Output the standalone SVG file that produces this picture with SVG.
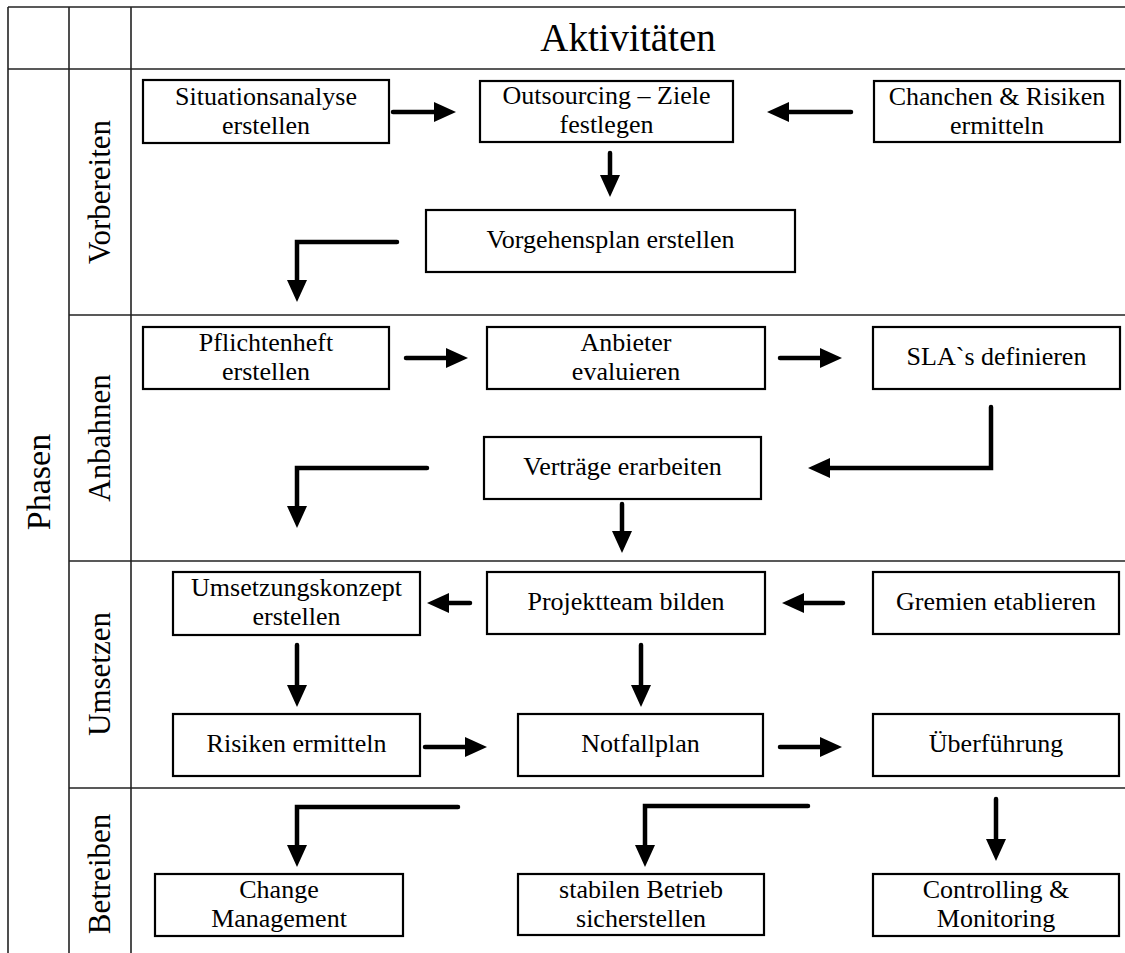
<svg xmlns="http://www.w3.org/2000/svg" width="1125" height="953" viewBox="0 0 1125 953">
<style>
.grid{stroke:#222;stroke-width:1.6;fill:none}
.box{fill:#fff;stroke:#000;stroke-width:2.2}
.c{stroke:#000;stroke-width:4.5;fill:none;stroke-linecap:round;stroke-linejoin:miter;marker-end:url(#ah)}
</style>
<defs>
<marker id="ah" markerUnits="userSpaceOnUse" markerWidth="24" markerHeight="22" refX="1" refY="10" orient="auto">
<path d="M0,0 L22,10 L0,20 Z" fill="#000"/>
</marker>
</defs>
<rect width="1125" height="953" fill="#fff"/>
<g id="table">
<line class="grid" x1="8" y1="7" x2="1125" y2="7"/>
<line class="grid" x1="8" y1="69" x2="1125" y2="69"/>
<line class="grid" x1="8" y1="7" x2="8" y2="953"/>
<line class="grid" x1="69" y1="7" x2="69" y2="953"/>
<line class="grid" x1="131" y1="7" x2="131" y2="953"/>
<line class="grid" x1="69" y1="315" x2="1125" y2="315"/>
<line class="grid" x1="69" y1="561" x2="1125" y2="561"/>
<line class="grid" x1="69" y1="788" x2="1125" y2="788"/>
<g font-family="'Liberation Serif', 'Times New Roman', serif" fill="#000" text-anchor="middle">
<text x="628" y="51" font-size="39">Aktivitäten</text>
<text transform="translate(50,482) rotate(-90)" font-size="34">Phasen</text>
<text transform="translate(110,192) rotate(-90)" font-size="31">Vorbereiten</text>
<text transform="translate(110,438) rotate(-90)" font-size="31">Anbahnen</text>
<text transform="translate(110,674) rotate(-90)" font-size="31">Umsetzen</text>
<text transform="translate(110,874) rotate(-90)" font-size="31">Betreiben</text>
</g>
</g>
<g id="connectors">
<path class="c" d="M393,112 L435,112"/>
<path class="c" d="M851,112 L788,112"/>
<path class="c" d="M610,153 L610,176"/>
<path class="c" d="M397,242 L297,242 L297,281"/>
<path class="c" d="M406,358 L447,358"/>
<path class="c" d="M780,358 L821,358"/>
<path class="c" d="M991,407 L991,468 L829,468"/>
<path class="c" d="M427,468 L297,468 L297,507"/>
<path class="c" d="M622,504 L622,532"/>
<path class="c" d="M470,603 L448,603"/>
<path class="c" d="M843,603 L803,603"/>
<path class="c" d="M297,645 L297,686"/>
<path class="c" d="M641,645 L641,686"/>
<path class="c" d="M425,747 L466,747"/>
<path class="c" d="M780,747 L821,747"/>
<path class="c" d="M458,807 L297,807 L297,846"/>
<path class="c" d="M808,806 L645,806 L645,846"/>
<path class="c" d="M996,799 L996,840"/>
</g>
<g id="nodes" font-family="'Liberation Serif', 'Times New Roman', serif" font-size="26" fill="#000" text-anchor="middle">
<g id="n1"><rect class="box" x="143" y="80" width="246" height="63"/><text x="266" y="105">Situationsanalyse</text><text x="266" y="134">erstellen</text></g>
<g id="n2"><rect class="box" x="480" y="81" width="253" height="61"/><text x="606.5" y="104">Outsourcing – Ziele</text><text x="606.5" y="133">festlegen</text></g>
<g id="n3"><rect class="box" x="874" y="81" width="246" height="61"/><text x="997" y="105">Chanchen &amp; Risiken</text><text x="997" y="134">ermitteln</text></g>
<g id="n4"><rect class="box" x="426" y="210" width="369" height="62"/><text x="610.5" y="248">Vorgehensplan erstellen</text></g>
<g id="n5"><rect class="box" x="143" y="327" width="246" height="62"/><text x="266" y="351">Pflichtenheft</text><text x="266" y="380">erstellen</text></g>
<g id="n6"><rect class="box" x="487" y="327" width="278" height="62"/><text x="626" y="351">Anbieter</text><text x="626" y="380">evaluieren</text></g>
<g id="n7"><rect class="box" x="873" y="327" width="247" height="62"/><text x="996.5" y="365">SLA`s definieren</text></g>
<g id="n8"><rect class="box" x="484" y="437" width="277" height="62"/><text x="622.5" y="475">Verträge erarbeiten</text></g>
<g id="n9"><rect class="box" x="173" y="572" width="247" height="63"/><text x="296.5" y="596">Umsetzungskonzept</text><text x="296.5" y="625">erstellen</text></g>
<g id="n10"><rect class="box" x="487" y="572" width="278" height="62"/><text x="626" y="610">Projektteam bilden</text></g>
<g id="n11"><rect class="box" x="873" y="572" width="246" height="62"/><text x="996" y="610">Gremien etablieren</text></g>
<g id="n12"><rect class="box" x="173" y="714" width="247" height="62"/><text x="296.5" y="752">Risiken ermitteln</text></g>
<g id="n13"><rect class="box" x="518" y="714" width="245" height="62"/><text x="640.5" y="752">Notfallplan</text></g>
<g id="n14"><rect class="box" x="873" y="714" width="246" height="62"/><text x="996" y="752">Überführung</text></g>
<g id="n15"><rect class="box" x="155" y="874" width="248" height="62"/><text x="279" y="898">Change</text><text x="279" y="927">Management</text></g>
<g id="n16"><rect class="box" x="518" y="874" width="246" height="61"/><text x="641" y="898">stabilen Betrieb</text><text x="641" y="927">sicherstellen</text></g>
<g id="n17"><rect class="box" x="873" y="874" width="246" height="62"/><text x="996" y="898">Controlling &amp;</text><text x="996" y="927">Monitoring</text></g>
</g>
</svg>
